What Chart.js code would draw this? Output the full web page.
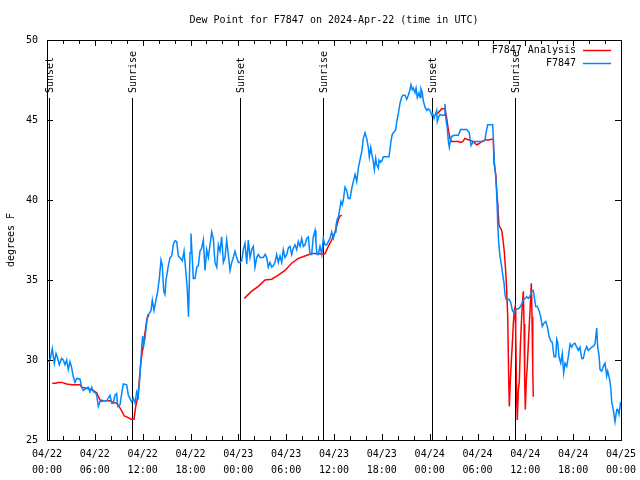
<!DOCTYPE html>
<html><head><meta charset="utf-8">
<script src="https://cdn.jsdelivr.net/npm/chart.js@4.4.1/dist/chart.umd.min.js"></script>
<style>html,body{margin:0;padding:0;background:#fff}canvas{display:block}</style>
</head><body>
<canvas id="c" width="640" height="480"></canvas>
<script>
const FONT = '"DejaVu Sans Mono", "Liberation Mono", monospace';
const titleText = 'Dew Point for F7847 on 2024-Apr-22 (time in UTC)';
const yAxisTitle = 'degrees F';
const seriesNames = ['F7847 Analysis', 'F7847'];
const seriesColors = ['#ff0000', '#0088ff'];

// x axis: hours since 2024-04-22 00:00 UTC
const xTickHours = [0, 6, 12, 18, 24, 30, 36, 42, 48, 54, 60, 66, 72];
const xTickLabels = [
  ['04/22','00:00'],['04/22','06:00'],['04/22','12:00'],['04/22','18:00'],
  ['04/23','00:00'],['04/23','06:00'],['04/23','12:00'],['04/23','18:00'],
  ['04/24','00:00'],['04/24','06:00'],['04/24','12:00'],['04/24','18:00'],
  ['04/25','00:00']
];
const xMinorStep = 2;
const yTicks = [25, 30, 35, 40, 45, 50];

const sunHours  = [0.3, 10.7, 24.25, 34.65, 48.33, 58.75];
const sunLabels = ['Sunset','Sunrise','Sunset','Sunrise','Sunset','Sunrise'];

// F7847 observations
const obsHours = [
  0.16,0.38,0.66,0.92,1.13,1.29,1.54,1.84,2.04,2.26,
  2.47,2.67,2.89,3.10,3.30,3.51,3.73,4.14,4.35,4.55,
  4.85,5.18,5.39,5.61,5.81,6.02,6.23,6.44,6.65,6.86,
  7.06,7.49,7.90,8.12,8.32,8.53,8.74,8.87,9.16,9.37,
  9.57,10.00,10.20,10.41,10.62,10.83,11.04,11.25,11.45,11.67,
  11.88,12.00,12.13,12.29,12.42,12.63,12.83,13.05,13.21,13.42,
  13.67,13.89,14.09,14.30,14.46,14.64,14.80,14.93,15.22,15.43,
  15.64,15.84,16.06,16.27,16.47,16.68,16.97,17.19,17.40,17.60,
  17.75,17.94,18.06,18.35,18.57,18.78,18.98,19.19,19.41,19.61,
  19.82,20.03,20.23,20.45,20.66,20.86,21.07,21.29,21.49,21.70,
  21.91,22.12,22.33,22.54,22.74,22.96,23.17,23.37,23.58,23.80,
  24.00,24.21,24.42,24.62,24.84,25.05,25.25,25.46,25.68,25.88,
  26.09,26.30,26.51,26.72,26.93,27.13,27.35,27.56,27.76,27.97,
  28.19,28.39,28.60,28.81,29.01,29.23,29.44,29.64,29.85,30.07,
  30.27,30.48,30.69,30.90,31.11,31.32,31.52,31.74,31.95,32.15,
  32.36,32.58,32.78,32.99,33.20,33.40,33.62,33.74,33.87,34.03,
  34.24,34.46,34.66,34.87,35.09,35.29,35.50,35.71,35.91,36.13,
  36.25,36.42,36.54,36.75,36.88,37.04,37.17,37.38,37.59,37.80,
  38.01,38.22,38.42,38.64,38.85,39.05,39.26,39.48,39.68,39.89,
  40.10,40.30,40.43,40.61,40.73,40.93,41.06,41.23,41.36,41.56,
  41.65,41.77,41.99,42.19,42.61,42.90,43.03,43.15,43.31,43.53,
  43.74,43.87,44.07,44.28,44.49,44.69,44.91,45.12,45.32,45.53,
  45.66,45.82,45.95,46.16,46.29,46.45,46.66,46.79,46.91,47.08,
  47.20,47.42,47.63,47.83,48.04,48.26,48.38,48.55,48.67,48.88,
  48.96,49.13,49.30,49.51,49.80,49.92,50.05,50.21,50.34,50.46,
  50.64,50.84,51.18,51.59,51.89,52.22,52.65,52.97,53.19,53.48,
  53.90,54.31,54.73,54.94,55.07,55.28,55.57,55.91,55.98,56.11,
  56.24,56.36,56.45,56.54,56.66,56.82,57.04,57.20,57.33,57.45,
  57.58,57.79,57.95,58.17,58.37,58.58,58.79,59.12,59.33,59.55,
  59.75,59.96,60.17,60.38,60.59,60.80,61.00,61.13,61.30,61.50,
  61.72,61.93,62.13,62.34,62.56,62.76,62.97,63.18,63.38,63.60,
  63.81,63.94,64.06,64.22,64.44,64.64,64.81,64.98,65.19,65.39,
  65.61,65.82,66.02,66.23,66.45,66.65,66.86,67.07,67.27,67.49,
  67.70,67.90,68.11,68.33,68.53,68.74,68.95,69.08,69.24,69.37,
  69.58,69.78,69.99,70.21,70.33,70.53,70.71,70.83,71.03,71.25,
  71.46,71.59,71.75,71.96
];
const obsValues = [
  29.9,30.0,30.7,29.8,30.4,30.2,29.7,30.1,30.0,29.7,
  30.0,29.4,29.9,29.5,28.95,28.6,28.85,28.8,28.3,28.1,
  28.2,28.3,28.0,28.3,28.0,28.0,27.8,27.1,27.4,27.4,
  27.45,27.45,27.8,27.3,27.3,27.8,27.9,27.1,27.2,27.9,
  28.5,28.45,27.8,27.6,27.4,27.6,27.3,28.0,27.7,29.1,
  30.8,31.5,30.9,31.35,32.0,32.8,32.9,33.1,33.75,33.1,
  33.75,34.3,35.1,36.25,35.9,34.3,34.1,35.0,35.9,36.4,
  36.5,37.2,37.45,37.4,36.5,36.4,36.2,36.8,35.6,34.4,
  32.7,36.7,37.9,35.1,35.1,35.8,35.9,36.8,37.0,37.5,
  35.6,36.9,36.4,37.2,38.0,37.6,36.1,35.8,37.2,36.8,
  37.7,36.1,36.4,37.5,36.6,35.6,36.1,36.4,36.8,36.4,
  36.1,36.1,36.2,36.9,37.3,36.0,37.5,36.4,36.9,37.1,
  35.8,36.4,36.6,36.4,36.4,36.4,36.6,36.4,35.8,36.1,
  35.8,35.9,36.1,36.6,36.1,36.5,36.1,36.9,36.4,36.6,
  37.0,37.1,36.6,37.0,37.2,36.9,37.4,37.1,37.6,37.1,
  37.2,37.6,37.7,36.6,36.6,37.7,38.1,37.3,36.6,36.6,
  37.1,36.6,37.6,37.2,37.2,37.4,37.6,38.0,37.6,38.0,
  38.4,38.85,38.9,39.5,39.9,39.7,40.0,40.8,40.6,40.1,
  40.1,40.7,41.15,41.6,41.15,42.0,42.5,43.0,43.85,44.2,
  43.85,43.3,42.7,43.3,42.9,42.4,41.9,42.6,42.2,42.0,
  42.5,42.4,42.4,42.7,42.7,42.7,43.2,43.7,44.1,44.25,
  44.4,44.9,45.4,46.05,46.45,46.55,46.55,46.3,46.55,46.9,
  47.2,46.9,47.0,46.7,47.0,46.4,46.7,46.4,46.95,46.7,
  46.2,45.8,45.6,45.7,45.6,45.3,45.4,45.1,45.3,45.6,
  44.9,45.2,45.35,45.3,45.3,46.0,45.0,44.5,43.7,43.3,
  43.85,44.0,44.05,44.05,44.4,44.4,44.4,44.2,43.4,43.65,
  43.65,43.65,43.65,43.75,44.2,44.7,44.7,44.7,43.9,42.4,
  41.7,40.9,39.8,38.5,37.3,36.5,35.8,35.2,34.8,34.1,
  33.8,33.75,33.8,33.6,33.1,32.95,33.15,33.2,33.3,33.5,
  33.75,33.85,33.95,33.85,34.0,34.3,34.35,33.9,33.35,33.35,
  33.1,32.7,32.1,32.3,32.4,32.1,31.5,31.2,31.1,30.2,
  30.2,31.3,31.1,30.2,29.8,30.4,29.2,29.8,29.6,30.2,
  31.0,30.8,31.0,31.05,30.8,30.6,30.8,30.1,30.1,30.6,
  30.85,30.6,30.7,30.8,30.85,31.0,32.0,30.8,30.3,29.4,
  29.3,29.6,29.8,29.0,29.3,28.9,28.3,27.4,26.9,26.15,
  26.9,26.9,26.6,27.4
];

// F7847 Analysis (null = gap)
const anaHours = [
  0.66,1.13,1.38,1.88,2.47,3.14,4.14,4.35,5.18,5.81,
  6.23,6.65,7.06,7.90,8.32,8.74,9.28,9.70,10.20,10.54,
  10.91,11.13,11.38,11.54,11.75,11.95,12.17,12.38,12.54,12.79,
  13.0,
  24.75,25.68,26.51,27.35,28.19,29.01,29.85,30.69,31.52,32.36,
  33.20,34.03,34.62,34.87,35.29,35.71,36.13,36.54,36.75,36.97,
  37.2,
  48.88,49.08,49.51,49.92,50.14,50.34,50.55,50.77,51.18,51.59,
  51.89,52.14,52.43,52.65,52.97,53.48,53.90,54.10,54.52,54.94,
  55.36,55.78,55.98,56.07,56.29,56.41,56.54,56.70,57.04,57.20,
  57.36,57.54,57.66,57.79,57.91,57.99,58.12,58.24,58.37,58.49,
  58.62,58.71,58.79,58.92,58.99,59.12,59.25,59.37,59.50,59.62,
  59.75,59.84,59.92,60.00,60.12,60.25,60.38,60.50,60.63,60.75,
  60.84,60.93,61.00
];
const anaValues = [
  28.55,28.55,28.6,28.6,28.5,28.45,28.45,28.3,28.2,28.1,
  27.95,27.5,27.45,27.45,27.35,27.3,26.9,26.5,26.4,26.3,
  26.3,27.1,27.7,28.5,29.7,30.5,31.3,32.0,32.6,32.8,
  null,
  33.85,34.3,34.6,35.0,35.05,35.3,35.6,36.05,36.35,36.5,
  36.65,36.65,36.6,36.65,37.1,37.5,38.0,38.75,39.0,39.05,
  null,
  45.4,45.45,45.7,45.7,45.1,44.4,43.85,43.65,43.65,43.65,
  43.6,43.65,43.85,43.8,43.75,43.65,43.45,43.5,43.65,43.75,
  43.75,43.8,43.8,42.3,41.6,40.6,39.7,38.4,38.1,37.5,
  36.8,35.5,34.4,32.7,28.95,27.1,28.7,29.9,31.0,32.25,
  33.1,33.3,31.8,27.5,26.25,28.1,28.7,30.8,32.25,33.5,
  34.3,32.25,28.7,26.9,28.7,29.7,31.0,32.25,33.5,34.8,
  32.7,29.4,27.7
];

const toPts = (xs, ys) => xs.map((h, i) => ({x: h, y: ys[i]}));

const deco = {
  id: 'deco',
  beforeDatasetsDraw(chart) {
    const {ctx, chartArea: a} = chart;
    const xs = chart.scales.x;
    ctx.save();
    ctx.strokeStyle = '#000';
    ctx.fillStyle = '#000';
    ctx.lineWidth = 1;
    ctx.font = '10px ' + FONT;
    sunHours.forEach((h, i) => {
      const px = Math.round(xs.getPixelForValue(h)) + 0.5;
      ctx.beginPath();
      ctx.moveTo(px, a.top + 58);
      ctx.lineTo(px, a.bottom);
      ctx.stroke();
      ctx.save();
      ctx.translate(px + 1, a.top + 53);
      ctx.rotate(-Math.PI / 2);
      ctx.textAlign = 'left';
      ctx.textBaseline = 'middle';
      ctx.fillText(sunLabels[i], 0, 0);
      ctx.restore();
    });
    ctx.restore();
  },
  afterDraw(chart) {
    const {ctx, chartArea: a} = chart;
    const xs = chart.scales.x, ys = chart.scales.y;
    ctx.save();
    ctx.strokeStyle = '#000';
    ctx.lineWidth = 1;
    ctx.strokeRect(a.left + 0.5, a.top + 0.5, a.right - a.left, a.bottom - a.top);
    ctx.beginPath();
    for (let h = xTickHours[0]; h <= xTickHours[xTickHours.length - 1]; h += xMinorStep) {
      const px = Math.round(xs.getPixelForValue(h)) + 0.5;
      const len = xTickHours.includes(h) ? 6 : 4;
      ctx.moveTo(px, a.bottom); ctx.lineTo(px, a.bottom - len);
      ctx.moveTo(px, a.top); ctx.lineTo(px, a.top + len);
    }
    yTicks.forEach(v => {
      const py = Math.round(ys.getPixelForValue(v)) + 0.5;
      ctx.moveTo(a.left, py); ctx.lineTo(a.left + 6, py);
      ctx.moveTo(a.right, py); ctx.lineTo(a.right - 6, py);
    });
    ctx.stroke();

    ctx.fillStyle = '#000';
    ctx.font = '10px ' + FONT;
    ctx.textAlign = 'center';
    ctx.textBaseline = 'middle';
    ctx.fillText(titleText, (a.left + a.right) / 2, 20);

    ctx.save();
    ctx.translate(11, (a.top + a.bottom) / 2);
    ctx.rotate(-Math.PI / 2);
    ctx.fillText(yAxisTitle, 0, 0);
    ctx.restore();

    ctx.textAlign = 'right';
    seriesNames.forEach((n, i) => {
      const y = 50 + i * 13;
      ctx.fillStyle = '#000';
      ctx.fillText(n, 576, y);
      ctx.strokeStyle = seriesColors[i];
      ctx.lineWidth = 1.5;
      ctx.beginPath();
      ctx.moveTo(583, y + 0.5);
      ctx.lineTo(611, y + 0.5);
      ctx.stroke();
    });
    ctx.restore();
  }
};

new Chart(document.getElementById('c'), {
  type: 'line',
  data: {
    datasets: [
      {
        label: seriesNames[1],
        data: toPts(obsHours, obsValues),
        borderColor: seriesColors[1],
        borderWidth: 1.5,
        pointRadius: 0,
        tension: 0,
        fill: false
      },
      {
        label: seriesNames[0],
        data: toPts(anaHours, anaValues),
        borderColor: seriesColors[0],
        borderWidth: 1.5,
        pointRadius: 0,
        tension: 0,
        fill: false,
        spanGaps: false
      }
    ]
  },
  options: {
    responsive: false,
    animation: false,
    devicePixelRatio: 1,
    layout: {padding: {left: 0, right: 19, top: 40, bottom: 0}},
    plugins: {legend: {display: false}, title: {display: false}, tooltip: {enabled: false}},
    scales: {
      x: {
        type: 'linear',
        min: xTickHours[0],
        max: xTickHours[xTickHours.length - 1],
        afterBuildTicks: s => { s.ticks = xTickHours.map(v => ({value: v})); },
        afterFit: s => { s.height = 40; s.paddingLeft = 0; s.paddingRight = 0; },
        grid: {display: false, drawTicks: false},
        border: {display: false},
        ticks: {
          autoSkip: false, maxRotation: 0, minRotation: 0, padding: 6,
          color: '#000',
          font: {family: FONT, size: 10, lineHeight: 1.6},
          callback: v => xTickLabels[xTickHours.indexOf(v)]
        }
      },
      y: {
        type: 'linear',
        min: yTicks[0],
        max: yTicks[yTicks.length - 1],
        afterBuildTicks: s => { s.ticks = yTicks.map(v => ({value: v})); },
        afterFit: s => { s.width = 47; s.paddingTop = 0; s.paddingBottom = 0; },
        grid: {display: false, drawTicks: false},
        border: {display: false},
        ticks: {
          padding: 9, color: '#000',
          font: {family: FONT, size: 10},
          callback: v => String(v)
        }
      }
    }
  },
  plugins: [deco]
});
</script>
</body></html>
